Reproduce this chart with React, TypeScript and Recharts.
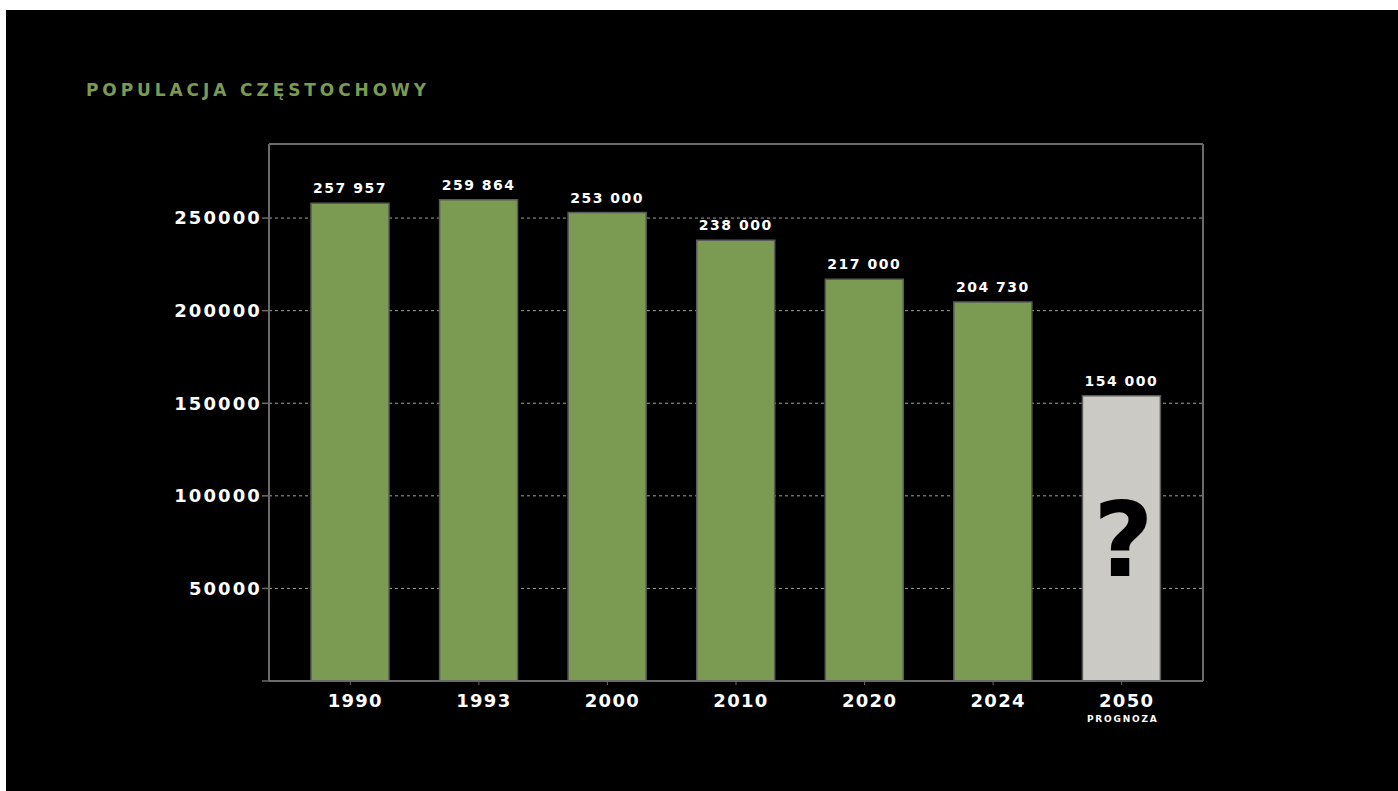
import { BarChart, Bar, XAxis, YAxis, CartesianGrid, Cell, LabelList } from 'recharts';

const years = ['1990', '1993', '2000', '2010', '2020', '2024', '2050'];
const population = [257957, 259864, 253000, 238000, 217000, 204730, 154000];
const forecast = [false, false, false, false, false, false, true];
const yTicks = [0, 50000, 100000, 150000, 200000, 250000];

const FONT = '"DejaVu Sans", sans-serif';
const GREEN = '#7b9a52';
const GREY_BAR = '#cbcac5';
const BORDER = '#6a6a6a';

const data = years.map((y, i) => ({ year: y, value: population[i], forecast: forecast[i] }));

function spaced(v: number) {
  return String(v).replace(/\B(?=(\d{3})+(?!\d))/g, ' ');
}

function YearTick(props: any) {
  const { x, y, payload, index } = props;
  const isForecast = forecast[index];
  return (
    <g>
      <text x={x + 5} y={y + 20} textAnchor="middle" fill="#fff" fontFamily={FONT} fontWeight={700} fontSize={18} letterSpacing={1.3}>
        {payload.value}
      </text>
      {isForecast && (
        <text x={x + 1} y={y + 35} textAnchor="middle" fill="#fff" fontFamily={FONT} fontWeight={700} fontSize={9} letterSpacing={1.8}>
          PROGNOZA
        </text>
      )}
    </g>
  );
}

function QuestionMark(props: any) {
  const { x, y, width, height, index } = props;
  if (!forecast[index]) return null;
  return (
    <text x={x + width / 2 + 2} y={y + height / 2 + 38} textAnchor="middle" fill="#000" fontFamily={FONT} fontWeight={700} fontSize={104}>
      ?
    </text>
  );
}

export default function App() {
  return (
    <div style={{ position: 'fixed', left: 6, top: 10, width: 1392, height: 781, background: '#000' }}>
      <div style={{ position: 'absolute', left: 80, top: 70, color: GREEN, fontFamily: FONT, fontWeight: 700, fontSize: 17, letterSpacing: 3.9 }}>
        POPULACJA CZĘSTOCHOWY
      </div>
      <BarChart width={1392} height={781} data={data} margin={{ top: 134, right: 195, bottom: 70, left: 163 }}>
        <CartesianGrid vertical={false} stroke="#a0a0a0" strokeDasharray="3 3" />
        {/* solid frame around the plot area */}
        <CartesianGrid
          stroke={BORDER}
          strokeWidth={2}
          horizontalCoordinatesGenerator={({ offset }: any) => [offset.top]}
          verticalCoordinatesGenerator={({ offset }: any) => [offset.left, offset.left + offset.width]}
        />
        <XAxis
          dataKey="year"
          padding={{ left: 17, right: 17 }}
          axisLine={{ stroke: BORDER, strokeWidth: 2 }}
          tickLine={{ stroke: BORDER }}
          tickSize={4}
          height={40}
          interval={0}
          tick={<YearTick />}
        />
        <YAxis
          width={100}
          domain={[0, 290000]}
          ticks={yTicks}
          axisLine={{ stroke: BORDER, strokeWidth: 2 }}
          tickLine={{ stroke: BORDER, strokeWidth: 1.5 }}
          tickSize={7}
          tickFormatter={(v: number) => (v === 0 ? '' : String(v))}
          tick={{ fill: '#fff', fontFamily: FONT, fontWeight: 700, fontSize: 18, letterSpacing: 2.1, dx: 2 }}
        />
        <Bar dataKey="value" barSize={78} stroke="#5a5a5a" strokeWidth={1.5} isAnimationActive={false}>
          {data.map((d) => (
            <Cell key={d.year} fill={d.forecast ? GREY_BAR : GREEN} />
          ))}
          <LabelList
            dataKey="value"
            position="top"
            offset={10}
            formatter={(v: any) => spaced(Number(v))}
            fill="#fff"
            fontFamily={FONT}
            fontWeight={700}
            fontSize={14}
            letterSpacing={1.5}
          />
          <LabelList dataKey="value" content={<QuestionMark />} />
        </Bar>
      </BarChart>
    </div>
  );
}
